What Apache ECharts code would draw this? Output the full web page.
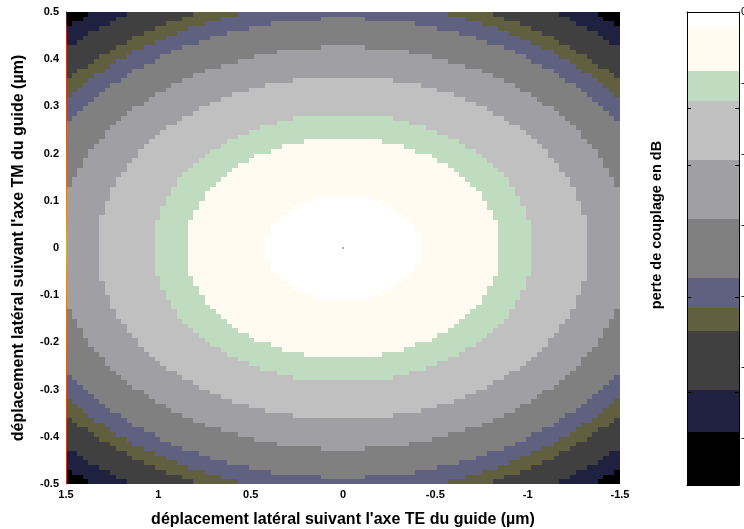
<!DOCTYPE html>
<html><head><meta charset="utf-8">
<script src="https://cdn.jsdelivr.net/npm/echarts@6/dist/echarts.min.js"></script>
<style>html,body{margin:0;padding:0;background:#fff}#c{width:744px;height:529px}</style>
</head><body><div id="c"></div>
<script>
// ---------- data ----------
// axis ranges / ticks (µm)
const xTickValues = [1.5, 1, 0.5, 0, -0.5, -1, -1.5];
const yTickValues = [-0.5, -0.4, -0.3, -0.2, -0.1, 0, 0.1, 0.2, 0.3, 0.4, 0.5];
// sampling resolution of the map (read from the staircase steps)
const sampleStepX = 0.03;
const sampleStepY = 0.01;
// contour band limits in dB (colorbar, top = 0 dB)
const bandLevelsDb = [0, 0.25, 1, 1.5, 2.5, 3.5, 4.5, 5, 5.4, 6.4, 7.1, 8];
// colorbar tick step (dB), labels are clipped by the figure edge
const colorbarTickStep = 1.2;
// small inner tick marks seen on the colorbar frame (dB)
const colorbarInnerTicks = [1.62, 2.6, 4.82, 6.43];
// each band boundary is an ellipse centred on (0,0): semi-axis along TE (x) and TM (y), µm
const boundarySemiAxisX = [0.42, 0.85, 1.03, 1.33, 1.56, 1.775, 1.89, 1.98, 2.15, 2.27];
const boundarySemiAxisY = [0.111, 0.233, 0.284, 0.363, 0.426, 0.486, 0.518, 0.542, 0.589, 0.622];
// small marker in the centre
const centerMark = [[0, 0]];

// ---------- styles ----------
const bandColors = ['#ffffff', '#fffbf0', '#c0dcc0', '#c0c0c0', '#a0a0a4', '#808080',
                    '#606080', '#606040', '#404040', '#202040', '#000000'];
const FONT = 'Liberation Sans, Arial, sans-serif';

// ---------- build map cells from the read boundaries ----------
const xMin = Math.min(...xTickValues), xMax = Math.max(...xTickValues);
const yMin = Math.min(...yTickValues), yMax = Math.max(...yTickValues);
const nX = Math.round((xMax - xMin) / sampleStepX);
const nY = Math.round((yMax - yMin) / sampleStepY);
const cells = [];
for (let i = 0; i < nX; i++) {
  const xc = xMin + (i + 0.5) * sampleStepX;
  for (let j = 0; j < nY; j++) {
    const yc = yMin + (j + 0.5) * sampleStepY;
    let band = boundarySemiAxisX.length;
    for (let k = 0; k < boundarySemiAxisX.length; k++) {
      const q = (xc / boundarySemiAxisX[k]) ** 2 + (yc / boundarySemiAxisY[k]) ** 2;
      if (q <= 1) { band = k; break; }
    }
    cells.push([xc, yc, band]);
  }
}
const colorbarBands = [];
for (let k = 0; k < bandLevelsDb.length - 1; k++) {
  colorbarBands.push([bandLevelsDb[k], bandLevelsDb[k + 1], k]);
}
const dbMax = bandLevelsDb[bandLevelsDb.length - 1];

const chart = echarts.init(document.getElementById('c'), null, {renderer: 'canvas'});
const labelStyle = {fontFamily: FONT, fontSize: 11, fontWeight: 'bold', color: '#000'};
const titleStyle = {fontFamily: FONT, fontSize: 16, fontWeight: 'bold', color: '#000'};

chart.setOption({
  animation: false,
  backgroundColor: '#fff',
  grid: [
    {left: 66, top: 12, width: 554, height: 472, outerBoundsMode: 'none', containLabel: false},
    {left: 687, top: 12, width: 52, height: 473, outerBoundsMode: 'none', containLabel: false}
  ],
  xAxis: [
    {type: 'value', gridIndex: 0, min: xMin, max: xMax, interval: 0.5, inverse: true,
     axisLine: {show: false}, axisTick: {show: false}, splitLine: {show: false},
     axisLabel: Object.assign({margin: 5}, labelStyle),
     name: "déplacement latéral suivant l'axe TE du guide (µm)", nameLocation: 'middle', nameGap: 28,
     nameTextStyle: titleStyle},
    {type: 'value', gridIndex: 1, min: 0, max: 1, position: 'bottom', z: 10,
     axisLine: {show: true, onZero: false, lineStyle: {color: '#000', width: 1}}, axisTick: {show: false},
     axisLabel: {show: false}, splitLine: {show: false}},
    {type: 'value', gridIndex: 1, min: 0, max: 1, position: 'top', z: 10,
     axisLine: {show: true, onZero: false, lineStyle: {color: '#000', width: 1}}, axisTick: {show: false},
     axisLabel: {show: false}, splitLine: {show: false}}
  ],
  yAxis: [
    {type: 'value', gridIndex: 0, min: yMin, max: yMax, interval: 0.1, z: 10,
     axisLine: {show: true, onZero: false, lineStyle: {width: 1, color: new echarts.graphic.LinearGradient(0, 0, 0, 1, [
       {offset: 0, color: '#202040'}, {offset: 0.06, color: '#c83020'}, {offset: 0.4, color: '#e07a20'},
       {offset: 0.5, color: '#e0b030'}, {offset: 0.6, color: '#e07a20'}, {offset: 1, color: '#c83020'}])}},
     axisTick: {show: false}, splitLine: {show: false},
     axisLabel: Object.assign({margin: 7}, labelStyle),
     name: "déplacement latéral suivant l'axe TM du guide (µm)", nameLocation: 'middle', nameGap: 39,
     nameTextStyle: titleStyle},
    {type: 'value', gridIndex: 1, min: 0, max: dbMax, inverse: true, position: 'left', z: 10,
     axisLine: {show: true, onZero: false, lineStyle: {color: '#000', width: 1}},
     axisTick: {show: true, inside: true, length: 4, customValues: colorbarInnerTicks,
                lineStyle: {color: '#000', width: 1}},
     axisLabel: {show: false}, splitLine: {show: false}},
    {type: 'value', gridIndex: 1, min: 0, max: dbMax, inverse: true, interval: colorbarTickStep,
     position: 'right', z: 10,
     axisLine: {show: true, onZero: false, lineStyle: {color: '#000', width: 1}},
     axisTick: {show: true, inside: true, length: 4, customValues: colorbarInnerTicks,
                lineStyle: {color: '#000', width: 1}},
     axisLabel: {show: true, margin: 2, fontFamily: FONT, fontSize: 11, color: '#000',
                 showMaxLabel: false,
                 formatter: function (v) { return v === 0 ? '0' : '-' + (+v.toFixed(1)); }},
     splitLine: {show: false}}
  ],
  graphic: [{
    type: 'text', x: 657, y: 225, rotation: Math.PI / 2, z: 20,
    style: {text: 'perte de couplage en dB', font: 'bold 14.5px ' + FONT, fill: '#000',
            align: 'center', verticalAlign: 'middle'}
  }],
  series: [
    {
      type: 'custom', xAxisIndex: 0, yAxisIndex: 0, data: cells, encode: {x: 0, y: 1},
      renderItem: function (params, api) {
        const x = api.value(0), y = api.value(1);
        const p0 = api.coord([x - sampleStepX / 2, y + sampleStepY / 2]);
        const p1 = api.coord([x + sampleStepX / 2, y - sampleStepY / 2]);
        const l = Math.round(Math.min(p0[0], p1[0])), r = Math.round(Math.max(p0[0], p1[0]));
        const t = Math.round(Math.min(p0[1], p1[1])), b = Math.round(Math.max(p0[1], p1[1]));
        return {type: 'rect', shape: {x: l, y: t, width: r - l, height: b - t},
                style: {fill: bandColors[api.value(2)]}};
      }
    },
    {
      type: 'scatter', xAxisIndex: 0, yAxisIndex: 0, data: centerMark, symbol: 'rect',
      symbolSize: 2, itemStyle: {color: '#999'}, z: 5
    },
    {
      type: 'custom', xAxisIndex: 1, yAxisIndex: 1, data: colorbarBands,
      renderItem: function (params, api) {
        const p0 = api.coord([0, api.value(0)]);
        const p1 = api.coord([1, api.value(1)]);
        const l = Math.round(Math.min(p0[0], p1[0])), r = Math.round(Math.max(p0[0], p1[0]));
        const t = Math.round(Math.min(p0[1], p1[1])), b = Math.round(Math.max(p0[1], p1[1]));
        return {type: 'rect', shape: {x: l, y: t, width: r - l, height: b - t},
                style: {fill: bandColors[api.value(2)]}};
      }
    }
  ]
});
</script>
</body></html>
